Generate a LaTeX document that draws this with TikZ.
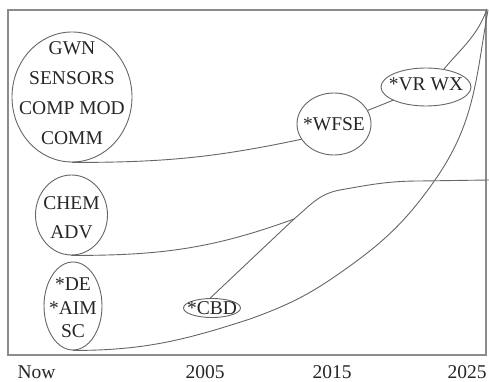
\documentclass[tikz,border=0pt]{standalone}
\usepackage{fontspec}
\setmainfont{Liberation Serif}
\usetikzlibrary{shapes.geometric}

\begin{document}
\begin{tikzpicture}[
    x=1pt,y=1pt,
    curve/.style={draw=black!60,line width=0.9,line cap=round},
    frame/.style={draw=black!45,line width=1.3},
    blob/.style={ellipse,draw=black!60,line width=0.9,inner sep=0},
    txt/.style={text=black!85,inner sep=0,align=center,font=\fontsize{19.5}{30}\selectfont},
    lbl/.style={text=black!85,inner sep=0,anchor=base,font=\fontsize{19.5}{24}\selectfont}
    ]
% TIMELINE OF TECHNOLOGY TRENDS
\useasboundingbox (0,0) rectangle (489,382);
\draw[frame] (8,27) rectangle (486,372);

    % ELLIPSES
    \node[blob,minimum width=120,minimum height=130] (gwn) at (72,285) {};
    \node[txt] at (72,289) {GWN\\SENSORS\\COMP MOD\\COMM};
    \node[blob,minimum width=72,minimum height=80] (chem) at (71.5,167) {};
    \node[txt,font=\fontsize{19.5}{29}\selectfont] at (71.5,164.5) {CHEM\\ADV};
    \node[blob,minimum width=58,minimum height=88] (de) at (73,76) {};
    \node[txt,font=\fontsize{19.5}{23.5}\selectfont] at (73,74) {*DE\\*AIM\\SC};
    \node[blob,minimum width=57,minimum height=19] (cbd) at (212,74) {};
    \node[txt] at (cbd) {*CBD};
    \node[blob,minimum width=74,minimum height=62] (wfse) at (334,258) {};
    \node[txt] at (wfse) {*WFSE};
    \node[blob,minimum width=90,minimum height=38] (vrwx) at (426,295) {};
    \node[txt] at (426,298) {*VR WX};

    % END POINTS
    \coordinate (topend) at (487,373);   % top right corner
    \coordinate (junc) at (294,163);     % CBD joins CHEM
    \coordinate (bend) at (340,192);
    \coordinate (flat) at (420,201);
    \coordinate (chemend) at (489,202);
    \coordinate (e1) at (250,63);        % lower curve
    \coordinate (e2) at (340,109);
    \coordinate (e3) at (435,202);
    \coordinate (expend) at (488,372);

    % CURVES
    \draw[curve] (gwn.south) to[out=0,in=192] (wfse.205);
    \draw[curve] (wfse) -- (vrwx);
    \draw[curve] (vrwx.45) to[out=50,in=250] (topend);
    \draw[curve] (chem.south) to[out=0,in=200] (junc) to[out=40,in=190] (bend)
        to[out=10,in=180] (flat) -- (chemend);
    \draw[curve] (cbd.100) -- (junc);
    \draw[curve] (de.south) to[out=0,in=198] (e1) to[out=20,in=215] (e2)
        to[out=35,in=235] (e3) to[out=55,in=260] (expend);

    % TIME AXIS
    \node[lbl] (now) at (36.5,3) {Now};
    \node[lbl] (y2005) at (205,3) {2005};
    \node[lbl] (y2015) at (332,3) {2015};
    \node[lbl] (y2025) at (467,3) {2025};
\end{tikzpicture}
\end{document}
